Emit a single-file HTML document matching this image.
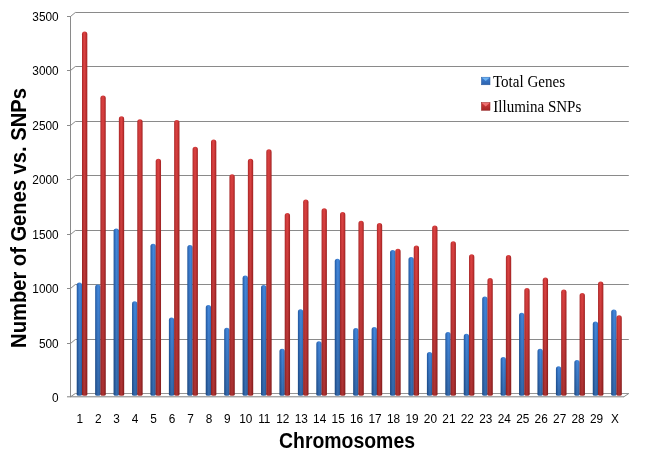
<!DOCTYPE html>
<html><head><meta charset="utf-8"><title>Number of Genes vs. SNPs</title>
<style>
html,body{margin:0;padding:0;background:#fff;}
body{width:663px;height:459px;overflow:hidden;}
svg{display:block;filter:blur(0.4px);}
text{font-family:"Liberation Sans",sans-serif;fill:#000;}
.lg{font-family:"Liberation Serif",serif;font-size:16px;}
.t{font-weight:bold;}
</style></head><body>
<svg width="663" height="459" viewBox="0 0 663 459">
<defs>
<linearGradient id="gr" x1="0" x2="1" y1="0" y2="0">
<stop offset="0" stop-color="#a82525"/><stop offset="0.25" stop-color="#cf3a3a"/><stop offset="0.5" stop-color="#dc4242"/><stop offset="0.75" stop-color="#c63333"/><stop offset="1" stop-color="#9e2020"/>
</linearGradient>
<linearGradient id="sh" x1="0" x2="0" y1="0" y2="1">
<stop offset="0" stop-color="#000" stop-opacity="0"/><stop offset="1" stop-color="#000" stop-opacity="0.22"/>
</linearGradient>
<linearGradient id="lb" x1="0" x2="0" y1="0" y2="1"><stop offset="0" stop-color="#3f80d2"/><stop offset="1" stop-color="#2c62ae"/></linearGradient>
<linearGradient id="lr" x1="0" x2="0" y1="0" y2="1"><stop offset="0" stop-color="#d03c3c"/><stop offset="1" stop-color="#a52424"/></linearGradient>
<linearGradient id="gb" x1="0" x2="1" y1="0" y2="0">
<stop offset="0" stop-color="#1f569c"/><stop offset="0.25" stop-color="#3371c2"/><stop offset="0.55" stop-color="#4489dc"/><stop offset="0.8" stop-color="#3c7dd0"/><stop offset="1" stop-color="#2f66b2"/>
</linearGradient>
</defs>
<rect width="663" height="459" fill="#fff"/>

<g fill="none" stroke="#8a8a8a" stroke-width="1">
<path d="M67 343.50H70.5L75.3 339.50H628.8" />
<path d="M67 288.50H70.5L75.3 284.50H628.8" />
<path d="M67 234.50H70.5L75.3 230.50H628.8" />
<path d="M67 179.50H70.5L75.3 175.50H628.8" />
<path d="M67 125.50H70.5L75.3 121.50H628.8" />
<path d="M67 70.50H70.5L75.3 66.50H628.8" />
<path d="M67 16.50H70.5L75.3 12.50H628.8" />
<path d="M75.3 393.5H628.8" stroke="#969696"/>
<path d="M70.5 16V396.8M70.5 396.8L75.3 393.5M623.8 396.8L628.8 393.5"/>
<path d="M67 396.8H624" stroke="#808080" stroke-width="1"/>
</g>
<g>
<path fill="url(#gb)" d="M76.75 394.8V285.15a2.65 2.65 0 0 1 5.3 0V394.8a2.65 1 0 0 1 -5.3 0z"/><path fill="url(#sh)" d="M76.75 394.8V285.15a2.65 2.65 0 0 1 5.3 0V394.8a2.65 1 0 0 1 -5.3 0z"/>
<path fill="url(#gr)" d="M82.00 394.8V34.25a2.65 2.65 0 0 1 5.3 0V394.8a2.65 1 0 0 1 -5.3 0z"/><path fill="url(#sh)" d="M82.00 394.8V34.25a2.65 2.65 0 0 1 5.3 0V394.8a2.65 1 0 0 1 -5.3 0z"/>
<path fill="url(#gb)" d="M95.18 394.8V287.15a2.65 2.65 0 0 1 5.3 0V394.8a2.65 1 0 0 1 -5.3 0z"/><path fill="url(#sh)" d="M95.18 394.8V287.15a2.65 2.65 0 0 1 5.3 0V394.8a2.65 1 0 0 1 -5.3 0z"/>
<path fill="url(#gr)" d="M100.43 394.8V98.15a2.65 2.65 0 0 1 5.3 0V394.8a2.65 1 0 0 1 -5.3 0z"/><path fill="url(#sh)" d="M100.43 394.8V98.15a2.65 2.65 0 0 1 5.3 0V394.8a2.65 1 0 0 1 -5.3 0z"/>
<path fill="url(#gb)" d="M113.61 394.8V231.15a2.65 2.65 0 0 1 5.3 0V394.8a2.65 1 0 0 1 -5.3 0z"/><path fill="url(#sh)" d="M113.61 394.8V231.15a2.65 2.65 0 0 1 5.3 0V394.8a2.65 1 0 0 1 -5.3 0z"/>
<path fill="url(#gr)" d="M118.86 394.8V118.90a2.65 2.65 0 0 1 5.3 0V394.8a2.65 1 0 0 1 -5.3 0z"/><path fill="url(#sh)" d="M118.86 394.8V118.90a2.65 2.65 0 0 1 5.3 0V394.8a2.65 1 0 0 1 -5.3 0z"/>
<path fill="url(#gb)" d="M132.04 394.8V303.90a2.65 2.65 0 0 1 5.3 0V394.8a2.65 1 0 0 1 -5.3 0z"/><path fill="url(#sh)" d="M132.04 394.8V303.90a2.65 2.65 0 0 1 5.3 0V394.8a2.65 1 0 0 1 -5.3 0z"/>
<path fill="url(#gr)" d="M137.29 394.8V121.90a2.65 2.65 0 0 1 5.3 0V394.8a2.65 1 0 0 1 -5.3 0z"/><path fill="url(#sh)" d="M137.29 394.8V121.90a2.65 2.65 0 0 1 5.3 0V394.8a2.65 1 0 0 1 -5.3 0z"/>
<path fill="url(#gb)" d="M150.47 394.8V246.40a2.65 2.65 0 0 1 5.3 0V394.8a2.65 1 0 0 1 -5.3 0z"/><path fill="url(#sh)" d="M150.47 394.8V246.40a2.65 2.65 0 0 1 5.3 0V394.8a2.65 1 0 0 1 -5.3 0z"/>
<path fill="url(#gr)" d="M155.72 394.8V161.40a2.65 2.65 0 0 1 5.3 0V394.8a2.65 1 0 0 1 -5.3 0z"/><path fill="url(#sh)" d="M155.72 394.8V161.40a2.65 2.65 0 0 1 5.3 0V394.8a2.65 1 0 0 1 -5.3 0z"/>
<path fill="url(#gb)" d="M168.90 394.8V320.15a2.65 2.65 0 0 1 5.3 0V394.8a2.65 1 0 0 1 -5.3 0z"/><path fill="url(#sh)" d="M168.90 394.8V320.15a2.65 2.65 0 0 1 5.3 0V394.8a2.65 1 0 0 1 -5.3 0z"/>
<path fill="url(#gr)" d="M174.15 394.8V122.65a2.65 2.65 0 0 1 5.3 0V394.8a2.65 1 0 0 1 -5.3 0z"/><path fill="url(#sh)" d="M174.15 394.8V122.65a2.65 2.65 0 0 1 5.3 0V394.8a2.65 1 0 0 1 -5.3 0z"/>
<path fill="url(#gb)" d="M187.33 394.8V247.65a2.65 2.65 0 0 1 5.3 0V394.8a2.65 1 0 0 1 -5.3 0z"/><path fill="url(#sh)" d="M187.33 394.8V247.65a2.65 2.65 0 0 1 5.3 0V394.8a2.65 1 0 0 1 -5.3 0z"/>
<path fill="url(#gr)" d="M192.58 394.8V149.40a2.65 2.65 0 0 1 5.3 0V394.8a2.65 1 0 0 1 -5.3 0z"/><path fill="url(#sh)" d="M192.58 394.8V149.40a2.65 2.65 0 0 1 5.3 0V394.8a2.65 1 0 0 1 -5.3 0z"/>
<path fill="url(#gb)" d="M205.76 394.8V307.65a2.65 2.65 0 0 1 5.3 0V394.8a2.65 1 0 0 1 -5.3 0z"/><path fill="url(#sh)" d="M205.76 394.8V307.65a2.65 2.65 0 0 1 5.3 0V394.8a2.65 1 0 0 1 -5.3 0z"/>
<path fill="url(#gr)" d="M211.01 394.8V142.05a2.65 2.65 0 0 1 5.3 0V394.8a2.65 1 0 0 1 -5.3 0z"/><path fill="url(#sh)" d="M211.01 394.8V142.05a2.65 2.65 0 0 1 5.3 0V394.8a2.65 1 0 0 1 -5.3 0z"/>
<path fill="url(#gb)" d="M224.19 394.8V330.40a2.65 2.65 0 0 1 5.3 0V394.8a2.65 1 0 0 1 -5.3 0z"/><path fill="url(#sh)" d="M224.19 394.8V330.40a2.65 2.65 0 0 1 5.3 0V394.8a2.65 1 0 0 1 -5.3 0z"/>
<path fill="url(#gr)" d="M229.44 394.8V176.90a2.65 2.65 0 0 1 5.3 0V394.8a2.65 1 0 0 1 -5.3 0z"/><path fill="url(#sh)" d="M229.44 394.8V176.90a2.65 2.65 0 0 1 5.3 0V394.8a2.65 1 0 0 1 -5.3 0z"/>
<path fill="url(#gb)" d="M242.62 394.8V278.15a2.65 2.65 0 0 1 5.3 0V394.8a2.65 1 0 0 1 -5.3 0z"/><path fill="url(#sh)" d="M242.62 394.8V278.15a2.65 2.65 0 0 1 5.3 0V394.8a2.65 1 0 0 1 -5.3 0z"/>
<path fill="url(#gr)" d="M247.87 394.8V161.40a2.65 2.65 0 0 1 5.3 0V394.8a2.65 1 0 0 1 -5.3 0z"/><path fill="url(#sh)" d="M247.87 394.8V161.40a2.65 2.65 0 0 1 5.3 0V394.8a2.65 1 0 0 1 -5.3 0z"/>
<path fill="url(#gb)" d="M261.05 394.8V287.65a2.65 2.65 0 0 1 5.3 0V394.8a2.65 1 0 0 1 -5.3 0z"/><path fill="url(#sh)" d="M261.05 394.8V287.65a2.65 2.65 0 0 1 5.3 0V394.8a2.65 1 0 0 1 -5.3 0z"/>
<path fill="url(#gr)" d="M266.30 394.8V151.90a2.65 2.65 0 0 1 5.3 0V394.8a2.65 1 0 0 1 -5.3 0z"/><path fill="url(#sh)" d="M266.30 394.8V151.90a2.65 2.65 0 0 1 5.3 0V394.8a2.65 1 0 0 1 -5.3 0z"/>
<path fill="url(#gb)" d="M279.48 394.8V351.40a2.65 2.65 0 0 1 5.3 0V394.8a2.65 1 0 0 1 -5.3 0z"/><path fill="url(#sh)" d="M279.48 394.8V351.40a2.65 2.65 0 0 1 5.3 0V394.8a2.65 1 0 0 1 -5.3 0z"/>
<path fill="url(#gr)" d="M284.73 394.8V215.65a2.65 2.65 0 0 1 5.3 0V394.8a2.65 1 0 0 1 -5.3 0z"/><path fill="url(#sh)" d="M284.73 394.8V215.65a2.65 2.65 0 0 1 5.3 0V394.8a2.65 1 0 0 1 -5.3 0z"/>
<path fill="url(#gb)" d="M297.91 394.8V311.90a2.65 2.65 0 0 1 5.3 0V394.8a2.65 1 0 0 1 -5.3 0z"/><path fill="url(#sh)" d="M297.91 394.8V311.90a2.65 2.65 0 0 1 5.3 0V394.8a2.65 1 0 0 1 -5.3 0z"/>
<path fill="url(#gr)" d="M303.16 394.8V202.15a2.65 2.65 0 0 1 5.3 0V394.8a2.65 1 0 0 1 -5.3 0z"/><path fill="url(#sh)" d="M303.16 394.8V202.15a2.65 2.65 0 0 1 5.3 0V394.8a2.65 1 0 0 1 -5.3 0z"/>
<path fill="url(#gb)" d="M316.34 394.8V343.90a2.65 2.65 0 0 1 5.3 0V394.8a2.65 1 0 0 1 -5.3 0z"/><path fill="url(#sh)" d="M316.34 394.8V343.90a2.65 2.65 0 0 1 5.3 0V394.8a2.65 1 0 0 1 -5.3 0z"/>
<path fill="url(#gr)" d="M321.59 394.8V210.90a2.65 2.65 0 0 1 5.3 0V394.8a2.65 1 0 0 1 -5.3 0z"/><path fill="url(#sh)" d="M321.59 394.8V210.90a2.65 2.65 0 0 1 5.3 0V394.8a2.65 1 0 0 1 -5.3 0z"/>
<path fill="url(#gb)" d="M334.77 394.8V261.40a2.65 2.65 0 0 1 5.3 0V394.8a2.65 1 0 0 1 -5.3 0z"/><path fill="url(#sh)" d="M334.77 394.8V261.40a2.65 2.65 0 0 1 5.3 0V394.8a2.65 1 0 0 1 -5.3 0z"/>
<path fill="url(#gr)" d="M340.02 394.8V214.65a2.65 2.65 0 0 1 5.3 0V394.8a2.65 1 0 0 1 -5.3 0z"/><path fill="url(#sh)" d="M340.02 394.8V214.65a2.65 2.65 0 0 1 5.3 0V394.8a2.65 1 0 0 1 -5.3 0z"/>
<path fill="url(#gb)" d="M353.20 394.8V330.65a2.65 2.65 0 0 1 5.3 0V394.8a2.65 1 0 0 1 -5.3 0z"/><path fill="url(#sh)" d="M353.20 394.8V330.65a2.65 2.65 0 0 1 5.3 0V394.8a2.65 1 0 0 1 -5.3 0z"/>
<path fill="url(#gr)" d="M358.45 394.8V223.40a2.65 2.65 0 0 1 5.3 0V394.8a2.65 1 0 0 1 -5.3 0z"/><path fill="url(#sh)" d="M358.45 394.8V223.40a2.65 2.65 0 0 1 5.3 0V394.8a2.65 1 0 0 1 -5.3 0z"/>
<path fill="url(#gb)" d="M371.63 394.8V329.65a2.65 2.65 0 0 1 5.3 0V394.8a2.65 1 0 0 1 -5.3 0z"/><path fill="url(#sh)" d="M371.63 394.8V329.65a2.65 2.65 0 0 1 5.3 0V394.8a2.65 1 0 0 1 -5.3 0z"/>
<path fill="url(#gr)" d="M376.88 394.8V225.65a2.65 2.65 0 0 1 5.3 0V394.8a2.65 1 0 0 1 -5.3 0z"/><path fill="url(#sh)" d="M376.88 394.8V225.65a2.65 2.65 0 0 1 5.3 0V394.8a2.65 1 0 0 1 -5.3 0z"/>
<path fill="url(#gb)" d="M390.06 394.8V252.65a2.65 2.65 0 0 1 5.3 0V394.8a2.65 1 0 0 1 -5.3 0z"/><path fill="url(#sh)" d="M390.06 394.8V252.65a2.65 2.65 0 0 1 5.3 0V394.8a2.65 1 0 0 1 -5.3 0z"/>
<path fill="url(#gr)" d="M395.31 394.8V251.40a2.65 2.65 0 0 1 5.3 0V394.8a2.65 1 0 0 1 -5.3 0z"/><path fill="url(#sh)" d="M395.31 394.8V251.40a2.65 2.65 0 0 1 5.3 0V394.8a2.65 1 0 0 1 -5.3 0z"/>
<path fill="url(#gb)" d="M408.49 394.8V259.65a2.65 2.65 0 0 1 5.3 0V394.8a2.65 1 0 0 1 -5.3 0z"/><path fill="url(#sh)" d="M408.49 394.8V259.65a2.65 2.65 0 0 1 5.3 0V394.8a2.65 1 0 0 1 -5.3 0z"/>
<path fill="url(#gr)" d="M413.74 394.8V248.15a2.65 2.65 0 0 1 5.3 0V394.8a2.65 1 0 0 1 -5.3 0z"/><path fill="url(#sh)" d="M413.74 394.8V248.15a2.65 2.65 0 0 1 5.3 0V394.8a2.65 1 0 0 1 -5.3 0z"/>
<path fill="url(#gb)" d="M426.92 394.8V354.65a2.65 2.65 0 0 1 5.3 0V394.8a2.65 1 0 0 1 -5.3 0z"/><path fill="url(#sh)" d="M426.92 394.8V354.65a2.65 2.65 0 0 1 5.3 0V394.8a2.65 1 0 0 1 -5.3 0z"/>
<path fill="url(#gr)" d="M432.17 394.8V228.15a2.65 2.65 0 0 1 5.3 0V394.8a2.65 1 0 0 1 -5.3 0z"/><path fill="url(#sh)" d="M432.17 394.8V228.15a2.65 2.65 0 0 1 5.3 0V394.8a2.65 1 0 0 1 -5.3 0z"/>
<path fill="url(#gb)" d="M445.35 394.8V334.65a2.65 2.65 0 0 1 5.3 0V394.8a2.65 1 0 0 1 -5.3 0z"/><path fill="url(#sh)" d="M445.35 394.8V334.65a2.65 2.65 0 0 1 5.3 0V394.8a2.65 1 0 0 1 -5.3 0z"/>
<path fill="url(#gr)" d="M450.60 394.8V243.90a2.65 2.65 0 0 1 5.3 0V394.8a2.65 1 0 0 1 -5.3 0z"/><path fill="url(#sh)" d="M450.60 394.8V243.90a2.65 2.65 0 0 1 5.3 0V394.8a2.65 1 0 0 1 -5.3 0z"/>
<path fill="url(#gb)" d="M463.78 394.8V336.40a2.65 2.65 0 0 1 5.3 0V394.8a2.65 1 0 0 1 -5.3 0z"/><path fill="url(#sh)" d="M463.78 394.8V336.40a2.65 2.65 0 0 1 5.3 0V394.8a2.65 1 0 0 1 -5.3 0z"/>
<path fill="url(#gr)" d="M469.03 394.8V256.90a2.65 2.65 0 0 1 5.3 0V394.8a2.65 1 0 0 1 -5.3 0z"/><path fill="url(#sh)" d="M469.03 394.8V256.90a2.65 2.65 0 0 1 5.3 0V394.8a2.65 1 0 0 1 -5.3 0z"/>
<path fill="url(#gb)" d="M482.21 394.8V299.15a2.65 2.65 0 0 1 5.3 0V394.8a2.65 1 0 0 1 -5.3 0z"/><path fill="url(#sh)" d="M482.21 394.8V299.15a2.65 2.65 0 0 1 5.3 0V394.8a2.65 1 0 0 1 -5.3 0z"/>
<path fill="url(#gr)" d="M487.46 394.8V280.65a2.65 2.65 0 0 1 5.3 0V394.8a2.65 1 0 0 1 -5.3 0z"/><path fill="url(#sh)" d="M487.46 394.8V280.65a2.65 2.65 0 0 1 5.3 0V394.8a2.65 1 0 0 1 -5.3 0z"/>
<path fill="url(#gb)" d="M500.64 394.8V359.65a2.65 2.65 0 0 1 5.3 0V394.8a2.65 1 0 0 1 -5.3 0z"/><path fill="url(#sh)" d="M500.64 394.8V359.65a2.65 2.65 0 0 1 5.3 0V394.8a2.65 1 0 0 1 -5.3 0z"/>
<path fill="url(#gr)" d="M505.89 394.8V257.65a2.65 2.65 0 0 1 5.3 0V394.8a2.65 1 0 0 1 -5.3 0z"/><path fill="url(#sh)" d="M505.89 394.8V257.65a2.65 2.65 0 0 1 5.3 0V394.8a2.65 1 0 0 1 -5.3 0z"/>
<path fill="url(#gb)" d="M519.07 394.8V315.40a2.65 2.65 0 0 1 5.3 0V394.8a2.65 1 0 0 1 -5.3 0z"/><path fill="url(#sh)" d="M519.07 394.8V315.40a2.65 2.65 0 0 1 5.3 0V394.8a2.65 1 0 0 1 -5.3 0z"/>
<path fill="url(#gr)" d="M524.32 394.8V290.65a2.65 2.65 0 0 1 5.3 0V394.8a2.65 1 0 0 1 -5.3 0z"/><path fill="url(#sh)" d="M524.32 394.8V290.65a2.65 2.65 0 0 1 5.3 0V394.8a2.65 1 0 0 1 -5.3 0z"/>
<path fill="url(#gb)" d="M537.50 394.8V351.40a2.65 2.65 0 0 1 5.3 0V394.8a2.65 1 0 0 1 -5.3 0z"/><path fill="url(#sh)" d="M537.50 394.8V351.40a2.65 2.65 0 0 1 5.3 0V394.8a2.65 1 0 0 1 -5.3 0z"/>
<path fill="url(#gr)" d="M542.75 394.8V280.15a2.65 2.65 0 0 1 5.3 0V394.8a2.65 1 0 0 1 -5.3 0z"/><path fill="url(#sh)" d="M542.75 394.8V280.15a2.65 2.65 0 0 1 5.3 0V394.8a2.65 1 0 0 1 -5.3 0z"/>
<path fill="url(#gb)" d="M555.93 394.8V368.90a2.65 2.65 0 0 1 5.3 0V394.8a2.65 1 0 0 1 -5.3 0z"/><path fill="url(#sh)" d="M555.93 394.8V368.90a2.65 2.65 0 0 1 5.3 0V394.8a2.65 1 0 0 1 -5.3 0z"/>
<path fill="url(#gr)" d="M561.18 394.8V292.15a2.65 2.65 0 0 1 5.3 0V394.8a2.65 1 0 0 1 -5.3 0z"/><path fill="url(#sh)" d="M561.18 394.8V292.15a2.65 2.65 0 0 1 5.3 0V394.8a2.65 1 0 0 1 -5.3 0z"/>
<path fill="url(#gb)" d="M574.36 394.8V362.65a2.65 2.65 0 0 1 5.3 0V394.8a2.65 1 0 0 1 -5.3 0z"/><path fill="url(#sh)" d="M574.36 394.8V362.65a2.65 2.65 0 0 1 5.3 0V394.8a2.65 1 0 0 1 -5.3 0z"/>
<path fill="url(#gr)" d="M579.61 394.8V295.65a2.65 2.65 0 0 1 5.3 0V394.8a2.65 1 0 0 1 -5.3 0z"/><path fill="url(#sh)" d="M579.61 394.8V295.65a2.65 2.65 0 0 1 5.3 0V394.8a2.65 1 0 0 1 -5.3 0z"/>
<path fill="url(#gb)" d="M592.79 394.8V324.15a2.65 2.65 0 0 1 5.3 0V394.8a2.65 1 0 0 1 -5.3 0z"/><path fill="url(#sh)" d="M592.79 394.8V324.15a2.65 2.65 0 0 1 5.3 0V394.8a2.65 1 0 0 1 -5.3 0z"/>
<path fill="url(#gr)" d="M598.04 394.8V284.15a2.65 2.65 0 0 1 5.3 0V394.8a2.65 1 0 0 1 -5.3 0z"/><path fill="url(#sh)" d="M598.04 394.8V284.15a2.65 2.65 0 0 1 5.3 0V394.8a2.65 1 0 0 1 -5.3 0z"/>
<path fill="url(#gb)" d="M611.22 394.8V312.05a2.65 2.65 0 0 1 5.3 0V394.8a2.65 1 0 0 1 -5.3 0z"/><path fill="url(#sh)" d="M611.22 394.8V312.05a2.65 2.65 0 0 1 5.3 0V394.8a2.65 1 0 0 1 -5.3 0z"/>
<path fill="url(#gr)" d="M616.47 394.8V317.90a2.65 2.65 0 0 1 5.3 0V394.8a2.65 1 0 0 1 -5.3 0z"/><path fill="url(#sh)" d="M616.47 394.8V317.90a2.65 2.65 0 0 1 5.3 0V394.8a2.65 1 0 0 1 -5.3 0z"/>
</g>
<g font-size="12.6" text-anchor="end">
<text transform="translate(58.7 401.60) scale(0.94 1)">0</text>
<text transform="translate(58.7 347.60) scale(0.94 1)">500</text>
<text transform="translate(58.7 292.60) scale(0.94 1)">1000</text>
<text transform="translate(58.7 238.60) scale(0.94 1)">1500</text>
<text transform="translate(58.7 183.60) scale(0.94 1)">2000</text>
<text transform="translate(58.7 129.60) scale(0.94 1)">2500</text>
<text transform="translate(58.7 74.60) scale(0.94 1)">3000</text>
<text transform="translate(58.7 20.60) scale(0.94 1)">3500</text>
</g>
<g font-size="12.6" text-anchor="middle">
<text transform="translate(79.70 422.5) scale(0.94 1)">1</text>
<text transform="translate(98.16 422.5) scale(0.94 1)">2</text>
<text transform="translate(116.62 422.5) scale(0.94 1)">3</text>
<text transform="translate(135.08 422.5) scale(0.94 1)">4</text>
<text transform="translate(153.54 422.5) scale(0.94 1)">5</text>
<text transform="translate(172.00 422.5) scale(0.94 1)">6</text>
<text transform="translate(190.46 422.5) scale(0.94 1)">7</text>
<text transform="translate(208.92 422.5) scale(0.94 1)">8</text>
<text transform="translate(227.38 422.5) scale(0.94 1)">9</text>
<text transform="translate(245.84 422.5) scale(0.94 1)">10</text>
<text transform="translate(264.30 422.5) scale(0.94 1)">11</text>
<text transform="translate(282.76 422.5) scale(0.94 1)">12</text>
<text transform="translate(301.22 422.5) scale(0.94 1)">13</text>
<text transform="translate(319.68 422.5) scale(0.94 1)">14</text>
<text transform="translate(338.14 422.5) scale(0.94 1)">15</text>
<text transform="translate(356.60 422.5) scale(0.94 1)">16</text>
<text transform="translate(375.06 422.5) scale(0.94 1)">17</text>
<text transform="translate(393.52 422.5) scale(0.94 1)">18</text>
<text transform="translate(411.98 422.5) scale(0.94 1)">19</text>
<text transform="translate(430.44 422.5) scale(0.94 1)">20</text>
<text transform="translate(448.90 422.5) scale(0.94 1)">21</text>
<text transform="translate(467.36 422.5) scale(0.94 1)">22</text>
<text transform="translate(485.82 422.5) scale(0.94 1)">23</text>
<text transform="translate(504.28 422.5) scale(0.94 1)">24</text>
<text transform="translate(522.74 422.5) scale(0.94 1)">25</text>
<text transform="translate(541.20 422.5) scale(0.94 1)">26</text>
<text transform="translate(559.66 422.5) scale(0.94 1)">27</text>
<text transform="translate(578.12 422.5) scale(0.94 1)">28</text>
<text transform="translate(596.58 422.5) scale(0.94 1)">29</text>
<text transform="translate(615.04 422.5) scale(0.94 1)">X</text>
</g>
<text class="t" font-size="21.8" x="279" y="448" textLength="136" lengthAdjust="spacingAndGlyphs">Chromosomes</text>
<text class="t" font-size="22" transform="translate(25.9 347.9) rotate(-90)" textLength="259.8" lengthAdjust="spacingAndGlyphs">Number of Genes vs. SNPs</text>
<rect x="481.4" y="77.2" width="8.6" height="7.6" fill="url(#lb)" stroke="#2a5a9c" stroke-width="0.5"/><path d="M481.6 77.4h8.2l-4.1 3.7z" fill="#6bb2f2"/>
<text class="lg" x="492.9" y="86.5" textLength="72.2" lengthAdjust="spacingAndGlyphs">Total Genes</text>
<rect x="481.4" y="102.6" width="8.6" height="7.7" fill="url(#lr)" stroke="#8e1e1e" stroke-width="0.5"/><path d="M481.6 102.8h8.2l-4.1 3.7z" fill="#ee6f6f"/>
<text class="lg" x="493.3" y="112" textLength="88" lengthAdjust="spacingAndGlyphs">Illumina SNPs</text>
</svg></body></html>
